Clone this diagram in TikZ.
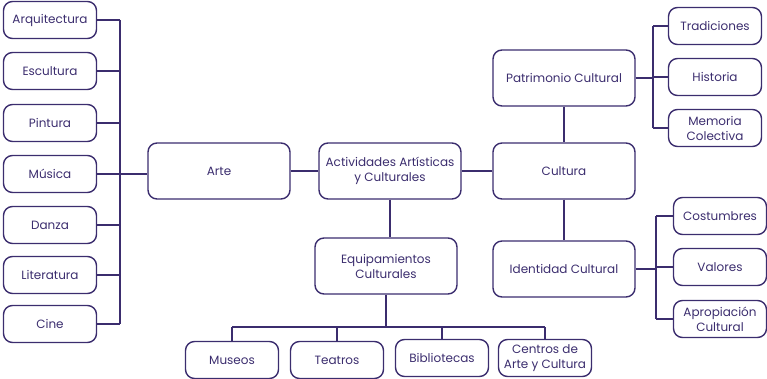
\documentclass[tikz,border=0pt]{standalone}
\usepackage{fontspec}
\setmainfont{Poppins}
\definecolor{tinta}{HTML}{3B2D6E}
\tikzset{
  caja/.style={draw=tinta, line width=1.4pt, rounded corners=9pt, text=tinta,
    align=center, inner sep=1pt, minimum width=93pt, minimum height=37pt,
    font=\fontsize{12}{15}\selectfont},
  cajagrande/.style={caja, minimum width=142pt, minimum height=56pt},
  enlace/.style={draw=tinta, line width=1.4pt}
}

\begin{document}
\begin{tikzpicture}[x=1pt, y=-1pt]
  \useasboundingbox (0,0) rectangle (767,379);
  % artes
  \node[caja] (arq)  at (50,20)  {Arquitectura};
  \node[caja] (esc)  at (50,71)  {Escultura};
  \node[caja] (pin)  at (50,123) {Pintura};
  \node[caja] (mus)  at (50,174) {Música};
  \node[caja] (dan)  at (50,225) {Danza};
  \node[caja] (lit)  at (50,275) {Literatura};
  \node[caja] (cine) at (50,324) {Cine};
  % centro
  \node[cajagrande] (arte)  at (219,171) {Arte};
  \node[cajagrande] (act)   at (390,171) {Actividades Artísticas\\y Culturales};
  \node[cajagrande] (cult)  at (564,171) {Cultura};
  \node[cajagrande] (pat)   at (564,78)  {Patrimonio Cultural};
  \node[cajagrande] (ident) at (564,269) {Identidad Cultural};
  \node[cajagrande] (equip) at (386,266) {Equipamientos\\Culturales};
  % equipamientos
  \node[caja] (museos)  at (232,360) {Museos};
  \node[caja] (teatros) at (337,360) {Teatros};
  \node[caja] (biblio)  at (442,358) {Bibliotecas};
  \node[caja] (centros) at (545,358) {Centros de\\Arte y Cultura};
  % patrimonio
  \node[caja] (trad) at (715,26)  {Tradiciones};
  \node[caja] (hist) at (715,77)  {Historia};
  \node[caja] (mem)  at (715,128) {Memoria\\Colectiva};
  % identidad
  \node[caja] (cost) at (720,216) {Costumbres};
  \node[caja] (val)  at (720,267) {Valores};
  \node[caja] (apro) at (720,319) {Apropiación\\Cultural};

  \coordinate (espina)  at (120,0);
  \coordinate (barra)   at (0,327);
  \coordinate (ramapat) at (653,0);
  \coordinate (ramaid)  at (656,0);

  \foreach \n in {arq,esc,pin,mus,dan,lit,cine}
    \draw[enlace] (\n.east) -- (\n.east -| espina);
  \draw[enlace] (arq.east -| espina) -- (cine.east -| espina);
  \draw[enlace] (mus.east) -- (mus.east -| arte.west);

  \draw[enlace] (arte) -- (act);
  \draw[enlace] (act) -- (cult);
  \draw[enlace] (act.south) -- (act.south |- equip.north);
  \draw[enlace] (pat) -- (cult);
  \draw[enlace] (cult) -- (ident);

  \draw[enlace] (equip.south) -- (equip.south |- barra);
  \draw[enlace] (museos.north |- barra) -- (centros.north |- barra);
  \foreach \n in {museos,teatros,biblio,centros}
    \draw[enlace] (\n.north |- barra) -- (\n.north);

  \draw[enlace] (pat.east) -- (pat.east -| ramapat);
  \draw[enlace] (trad.west -| ramapat) -- (mem.west -| ramapat);
  \foreach \n in {trad,hist,mem}
    \draw[enlace] (\n.west -| ramapat) -- (\n.west);

  \draw[enlace] (ident.east) -- (ident.east -| ramaid);
  \draw[enlace] (cost.west -| ramaid) -- (apro.west -| ramaid);
  \foreach \n in {cost,val,apro}
    \draw[enlace] (\n.west -| ramaid) -- (\n.west);
\end{tikzpicture}
\end{document}
